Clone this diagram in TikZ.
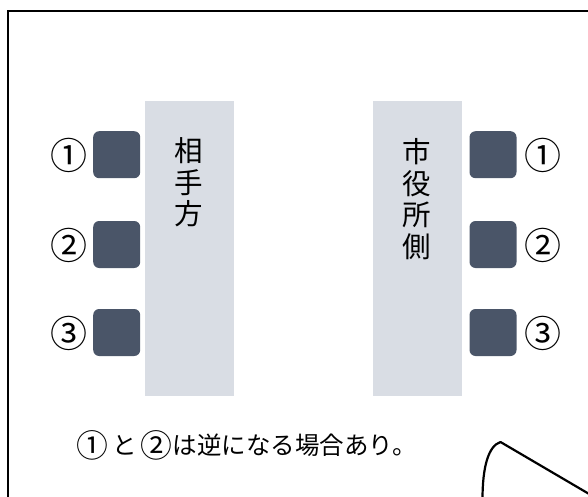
\documentclass[tikz,border=0pt]{standalone}
\usepackage{fontspec}
\newfontfamily\jp{Noto Sans CJK JP}
\definecolor{seat}{HTML}{4A5568}
\definecolor{table}{HTML}{D9DDE4}
\newcommand{\mycircnum}[1]{\raisebox{-0.1em}{\scalebox{1.3}{#1}}}
\begin{document}
\begin{tikzpicture}[x=1pt,y=-1pt,
  tablebox/.style={fill=table,draw=none},
  seatbox/.style={fill=seat,draw=none,rounded corners=6pt},
  numlabel/.style={font=\jp\fontsize{37}{37}\selectfont,inner sep=0pt,anchor=center},
  vlabel/.style={font=\jp\fontsize{28.5}{31.5}\selectfont,align=center,inner sep=0pt,anchor=center},
  frameline/.style={line width=2.5pt,draw=black},
  tabline/.style={line width=2.2pt,draw=black,line join=round}]
\useasboundingbox (0,0) rectangle (588,497);
% frame
\coordinate (fb) at (8,498);
\coordinate (fc) at (8,11);
\coordinate (fr) at (589,11);
\draw[frameline] (fb) -- (fc) -- (fr);
% tables
\node[tablebox,minimum width=89pt,minimum height=295pt,inner sep=0pt] (tl) at (189.5,248.5) {};
\node[tablebox,minimum width=89pt,minimum height=295pt,inner sep=0pt] (tr) at (417,248.5) {};
\node[vlabel] (ll) at (188.5,182.5) {相\\手\\方};
\node[vlabel] (rl) at (417,199) {市\\役\\所\\側};
% seats
\node[seatbox,minimum width=47pt,minimum height=47pt,inner sep=0pt] (s1) at (116.7,154.7) {};
\node[seatbox,minimum width=47pt,minimum height=47pt,inner sep=0pt] (s2) at (116.7,244.5) {};
\node[seatbox,minimum width=47pt,minimum height=47pt,inner sep=0pt] (s3) at (116.7,332.5) {};
\node[seatbox,minimum width=47pt,minimum height=47pt,inner sep=0pt] (r1) at (493,154.7) {};
\node[seatbox,minimum width=47pt,minimum height=47pt,inner sep=0pt] (r2) at (493,244.5) {};
\node[seatbox,minimum width=47pt,minimum height=47pt,inner sep=0pt] (r3) at (493,332.5) {};
\node[numlabel] (n1) at (68.5,155) {①};
\node[numlabel] (n2) at (68.5,245) {②};
\node[numlabel] (n3) at (68.5,333) {③};
\node[numlabel] (m1) at (542.5,155) {①};
\node[numlabel] (m2) at (542.5,245) {②};
\node[numlabel] (m3) at (542.5,333) {③};
% note
\node[font=\jp\fontsize{24.5}{24.5}\selectfont,anchor=west,inner sep=0pt] (note) at (76,445) {\mycircnum{①}\,と\,\mycircnum{②}は逆になる場合あり。};
% tab shape
\coordinate (ta) at (482.5,499);
\coordinate (tb) at (500.5,442);
\coordinate (tc) at (590,494.5);
\draw[tabline] (ta) .. controls (482.5,468) and (488,446) .. (tb) -- (tc);
\end{tikzpicture}
\end{document}
